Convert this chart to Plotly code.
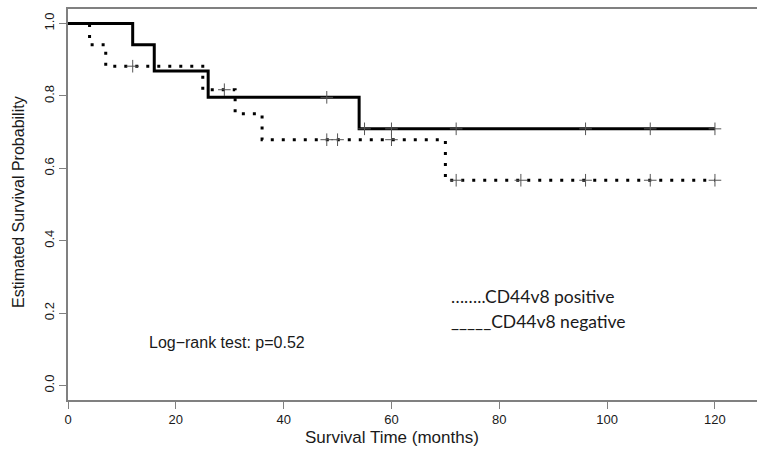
import plotly.graph_objects as go

# ---- data ----
# CD44v8 positive (dotted curve): step times and survival levels
pos_times = [0, 4, 7, 25, 31, 36, 70, 120]
pos_surv = [1.0, 0.941, 0.882, 0.817, 0.751, 0.679, 0.567, 0.567]
pos_cens_t = [12, 29, 48, 50, 60, 72, 84, 96, 108, 120]
pos_cens_s = [0.882, 0.817, 0.679, 0.679, 0.679, 0.567, 0.567, 0.567, 0.567, 0.567]

# CD44v8 negative (solid curve)
neg_times = [0, 12, 16, 26, 54, 120]
neg_surv = [1.0, 0.941, 0.869, 0.796, 0.709, 0.709]
neg_cens_t = [48, 55, 60, 72, 96, 108, 120]
neg_cens_s = [0.796, 0.709, 0.709, 0.709, 0.709, 0.709, 0.709]

x_ticks = [0, 20, 40, 60, 80, 100, 120]
y_ticks = [0.0, 0.2, 0.4, 0.6, 0.8, 1.0]

legend_pos = "……..CD44v8 positive"
legend_neg = "_____CD44v8 negative"
logrank_text = "Log\u2212rank test: p=0.52"

AX_FONT = "Liberation Sans, Arial, sans-serif"
LEG_FONT = "Lato, Carlito, sans-serif"

fig = go.Figure()

fig.add_trace(go.Scatter(
    x=pos_times, y=pos_surv, mode="lines", line_shape="hv",
    line=dict(color="black", width=3, dash="3px,8px"), showlegend=False,
    hoverinfo="skip"))
fig.add_trace(go.Scatter(
    x=neg_times, y=neg_surv, mode="lines", line_shape="hv",
    line=dict(color="black", width=3), showlegend=False, hoverinfo="skip"))
fig.add_trace(go.Scatter(
    x=pos_cens_t, y=pos_cens_s, mode="markers",
    marker=dict(symbol="cross-thin", size=9, line=dict(color="#555555", width=1)),
    showlegend=False, hoverinfo="skip"))
fig.add_trace(go.Scatter(
    x=neg_cens_t, y=neg_cens_s, mode="markers",
    marker=dict(symbol="cross-thin", size=9, line=dict(color="#555555", width=1)),
    showlegend=False, hoverinfo="skip"))

fig.update_layout(
    width=757, height=453,
    margin=dict(l=68, r=0, t=9, b=53),
    plot_bgcolor="white", paper_bgcolor="white",
    font=dict(family=AX_FONT, color="#1a1a1a"),
    xaxis=dict(
        range=[0, 127.8], tickvals=x_ticks, ticktext=[str(v) for v in x_ticks],
        showgrid=False, zeroline=False, showline=True, mirror=True,
        linecolor="#808080", linewidth=1.5,
        ticks="outside", ticklen=7, tickcolor="#808080", tickwidth=1,
        tickfont=dict(size=13, family=AX_FONT, color="#1a1a1a"),
    ),
    yaxis=dict(
        range=[-0.04, 1.04], tickvals=y_ticks, ticktext=[f"{v:.1f}" for v in y_ticks],
        showgrid=False, zeroline=False, showline=True, mirror=False,
        linecolor="#808080", linewidth=1.5,
        ticks="outside", ticklen=7, tickcolor="#808080", tickwidth=1,
        tickangle=-90,
        tickfont=dict(size=13, family=AX_FONT, color="#1a1a1a"),
    ),
    annotations=[
        dict(text="Survival Time (months)", xref="paper", yref="paper",
             x=(392 - 68) / 689, y=(400 - 438) / 391, showarrow=False,
             xanchor="center", yanchor="middle",
             font=dict(size=17, family=AX_FONT, color="#1a1a1a")),
        dict(text="Estimated Survival Probability", xref="paper", yref="paper",
             x=(19 - 68) / 689, y=(400 - 202) / 391, showarrow=False,
             xanchor="center", yanchor="middle", textangle=-90,
             font=dict(size=16, family=AX_FONT, color="#1a1a1a")),
        dict(text=logrank_text, x=14.6, y=0.12, xref="x", yref="y",
             showarrow=False, xanchor="left", yanchor="middle",
             font=dict(size=16, family=AX_FONT, color="#1a1a1a")),
        dict(text=legend_pos, x=70.6, y=0.245, xref="x", yref="y",
             showarrow=False, xanchor="left", yanchor="middle",
             font=dict(size=17.5, family=LEG_FONT, color="#1a1a1a")),
        dict(text=legend_neg, x=70.6, y=0.176, xref="x", yref="y",
             showarrow=False, xanchor="left", yanchor="middle",
             font=dict(size=17.5, family=LEG_FONT, color="#1a1a1a")),
    ],
)

fig.write_html("out.html", config={"displayModeBar": False},
               post_script="document.body.style.margin='0';")
